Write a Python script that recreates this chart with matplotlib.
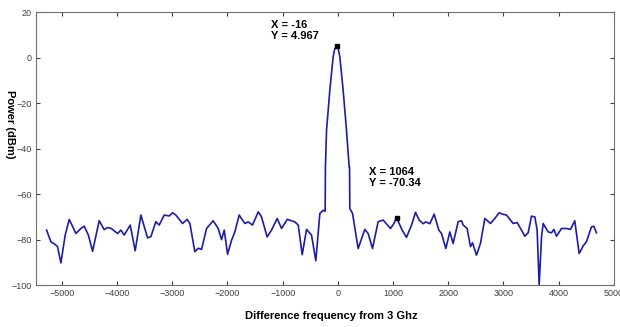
import numpy as np
from matplotlib import pyplot as plt

plt.rcParams['font.family'] = ['Liberation Sans', 'DejaVu Sans']

# Spectrum (frequency offset, power)
freq = [-5277, -5199, -5139, -5080, -5018, -4940, -4867, -4746, -4656, -4596,
        -4520, -4444, -4324, -4234, -4172, -4112, -3991, -3931, -3871, -3762,
        -3672, -3569, -3448, -3388, -3297, -3237, -3146, -3056, -2995, -2935,
        -2814, -2730, -2681, -2591, -2531, -2470, -2379, -2259, -2168, -2107,
        -2059, -1998, -1926, -1866, -1788, -1685, -1625, -1546, -1443, -1383,
        -1281, -1202, -1099, -1020, -918, -779, -718, -646, -567, -477,
        -399, -326, -266, -230, -225, -205, -145, -85, -55, -16,
        5, 36, 96, 157, 205, 212, 217, 266, 368, 489, 549,
        628, 730, 821, 954, 1014, 1064, 1165, 1244, 1335, 1407,
        1474, 1546, 1594, 1667, 1745, 1830, 1878, 1957, 2029, 2089,
        2180, 2240, 2271, 2343, 2403, 2440, 2512, 2584, 2663, 2766,
        2844, 2923, 2983, 3056, 3128, 3176, 3249, 3327, 3388, 3448,
        3509, 3569, 3611, 3648, 3690, 3720, 3810, 3872, 3914, 3962,
        4052, 4143, 4215, 4293, 4372, 4444, 4505, 4595, 4638, 4685]
power = [-75.8, -81.0, -81.8, -83.0, -90.2, -78.0, -71.1, -77.3, -75.1, -74.1,
         -78.0, -85.1, -71.7, -75.6, -74.7, -75.0, -77.3, -75.8, -78.0, -73.6,
         -84.9, -69.2, -79.2, -78.7, -72.1, -73.6, -69.2, -69.6, -68.2, -69.2,
         -72.9, -71.1, -72.9, -85.3, -83.8, -84.3, -75.1, -71.7, -75.1, -80.0,
         -75.8, -86.4, -80.3, -76.6, -69.2, -72.9, -72.2, -73.6, -67.8, -70.0,
         -78.8, -75.8, -70.7, -75.1, -71.1, -72.2, -73.6, -86.6, -75.5, -78.0,
         -89.3, -68.5, -67.1, -67.5, -48.0, -31.9, -14.3, 0.4, 4.0, 4.967,
         4.0, 0.4, -14.3, -32.0, -48.0, -48.0, -66.3, -68.5, -83.9, -75.5, -77.3,
         -83.9, -72.1, -71.4, -75.1, -73.0, -70.34, -75.8, -79.0, -73.6, -68.0,
         -71.4, -73.0, -72.2, -73.0, -68.8, -75.8, -77.3, -83.9, -76.6, -81.7,
         -72.1, -71.7, -73.6, -75.1, -83.1, -81.4, -86.8, -81.7, -70.7, -72.9,
         -70.7, -68.2, -68.8, -69.2, -71.4, -72.9, -72.5, -75.8, -78.5, -77.0,
         -69.7, -70.0, -75.8, -100.0, -79.0, -72.9, -76.6, -77.0, -75.5, -78.5,
         -75.1, -75.1, -75.5, -71.7, -86.1, -82.8, -80.9, -74.4, -74.1, -77.0]

# data tips
tip_x = [-16, 1064]
tip_y = [4.967, -70.34]

xticks = np.arange(-5000, 5001, 1000)
yticks = np.arange(-100, 21, 20)

fig = plt.figure(figsize=(6.2, 3.27), dpi=100)
ax = fig.add_axes([0.058, 0.128, 0.932, 0.835])

ax.plot(freq, power, color='#1c1ca8', lw=1.2)
ax.plot(tip_x, tip_y, 's', color='black', ms=3)

ax.text(-1220, 16.5, 'X = -16\nY = 4.967', fontsize=8, fontweight='bold',
        va='top', ha='left', linespacing=1.15)
ax.text(570, -48, 'X = 1064\nY = -70.34', fontsize=8, fontweight='bold',
        va='top', ha='left', linespacing=1.15)

ax.set_xlim(-5470, 5000)
ax.set_ylim(-100, 20)
ax.set_xticks(xticks)
ax.set_yticks(yticks)
ax.tick_params(direction='in', length=3, labelsize=6.5, colors='#404040',
               top=True, right=True, labeltop=False, labelright=False, pad=3)
for s in ax.spines.values():
    s.set_color('#707070')
    s.set_linewidth(0.8)

fig.text(0.534, 0.034, 'Difference frequency from 3 Ghz', fontsize=8,
         fontweight='bold', ha='center', va='center')
fig.text(0.016, 0.621, 'Power (dBm)', fontsize=8, fontweight='bold',
         rotation=270, ha='center', va='center')

fig.savefig('out.png', dpi=100)
